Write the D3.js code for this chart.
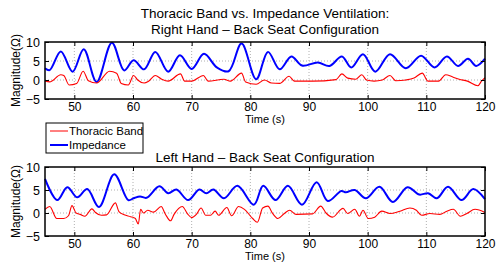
<!DOCTYPE html>
<html lang="en">
  <head>
    <meta charset="UTF-8" />
    <title>Thoracic Band vs. Impedance Ventilation</title>
    <style>
      body {
        margin: 0;
        background: #fff;
      }
      svg {
        font-family: 'Liberation Sans', Arial, sans-serif;
      }
    </style>
  </head>
  <body>
    <div id="main"></div>
    <script src="https://cdn.jsdelivr.net/npm/d3@7"></script>
    <script>
      const xTicks = [50, 60, 70, 80, 90, 100, 110, 120]
      const yTicks = [-5, 0, 5, 10]
      const seriesNames = ['Thoracic Band', 'Impedance']

      // [time (s), magnitude]
      const rightImpedance = [
        [45, 3.1], [45.8, 2.6], [47.7, 7.5], [49.7, 2.2], [51.6, 8.1], [53.8, -0.5],
        [56.4, 9.8], [58.5, 2.5], [60.1, 5.2], [61.9, 2.8], [63.8, 7.4], [66.0, 2.2],
        [68.0, 6.5], [70.0, 2.9], [72.1, 6.9], [74.3, 3.3], [76.3, 2.3], [78.5, 9.6],
        [81.0, 0.2], [83.0, 7.4], [85.0, 2.8], [87.0, 6.2], [88.8, 3.8], [91.5, 4.6],
        [93.5, 3.7], [95.6, 6.2], [97.2, 3.3], [99.2, 6.8], [101.3, 2.2], [103.8, 6.8],
        [106.5, 3.1], [109.1, 6.4], [111.4, 3.3], [113.5, 6.2], [115.4, 3.7], [117.1, 5.6],
        [118.5, 3.7], [120, 5.6]
      ]
      const rightThoracic = [
        [45, -0.3], [45.8, -0.5], [47.7, 1.4], [48.2, 1.2], [49.1, -1.3], [50.4, -0.9],
        [51.5, 2.3], [52.4, -0.2], [53.8, -0.8], [56.0, 2.3], [57.2, 1.8], [58.0, -0.9],
        [59.2, -1.3], [60.1, 1.2], [60.8, 0], [61.9, -0.8], [62.6, -0.4], [63.8, 1.2],
        [64.9, 0.2], [66.0, -0.3], [68.1, 1.6], [68.8, -0.3], [70.0, -0.3], [72.0, 1.2],
        [72.8, -0.3], [75.5, 0.2], [76.6, -0.3], [78.5, 1.8], [79.2, -0.5], [81.0, -1.1],
        [82.4, 0], [83.6, -0.8], [85.0, -0.9], [86.6, 1.0], [87.5, -0.3], [90.6, -0.3],
        [94.6, 0.1], [95.6, 1.6], [96.6, 0.5], [98.0, 0.2], [99.0, 1.4], [99.8, 0],
        [101.1, -0.3], [102.5, 0], [103.8, 1.2], [104.8, -0.2], [106.5, 0], [107.9, 0.5],
        [109.3, 1.8], [110.3, -0.3], [112.1, -0.3], [113.3, 1.4], [114.5, 0.8], [115.6, 0.2],
        [117.0, -0.3], [118.8, -1.5], [119.4, -0.3], [120, 0.6]
      ]
      const leftImpedance = [
        [45, 7.4], [47.1, 2.8], [48.8, 5.6], [50.5, 3.4], [52.2, 5.2], [54.2, 1.3],
        [56.8, 8.4], [59.2, 2.8], [60.1, 3.2], [61.2, 3.6], [62.3, 3.3], [64.5, 5.8],
        [66.0, 4.3], [67.4, 5.1], [69.4, 2.8], [71.3, 5.1], [72.5, 4.3], [73.7, 5.1],
        [75.5, 3.2], [77.8, 5.9], [80.6, 1.8], [82.2, 5.9], [84.3, 2.8], [86.4, 5.9],
        [88.8, 1.8], [91.3, 6.7], [93.2, 2.6], [95.5, 4.8], [96.3, 4.5], [97.8, 5.0],
        [99.7, 3.2], [102.0, 5.7], [104.3, 2.4], [106.8, 5.6], [108.8, 4.0], [110.3, 4.3],
        [111.8, 3.2], [113.7, 5.7], [116.0, 2.8], [118.0, 5.2], [120, 3.0]
      ]
      const leftThoracic = [
        [45, 0.8], [45.8, 1.4], [47.0, -1.2], [48.2, -1.2], [49.0, -0.6], [49.6, 1.6],
        [50.3, 0], [51.0, -0.3], [51.8, -0.7], [53.0, 0.9], [53.6, 0.1], [54.6, -0.5],
        [55.5, -0.4], [57.0, 2.2], [57.6, 0.3], [58.5, -0.4], [59.6, -0.8], [60.4, -1.2],
        [60.9, -2.4], [61.3, 0.8], [61.8, 0], [62.5, 0.6], [63.5, 0.2], [64.8, 1.4],
        [65.5, -0.2], [66.4, -1.7], [67.0, -0.3], [68.4, 1.4], [69.3, -0.2], [70.0, -1.0],
        [70.8, -0.3], [71.6, 1.1], [72.4, -0.5], [73.2, -0.5], [74.0, 0.4], [74.6, -0.5],
        [76.0, 1.2], [76.8, -0.6], [78.0, 1.4], [79.0, 0.8], [80.4, -1.2], [81.2, -2.0],
        [82.1, 1.1], [83.0, 1.5], [83.8, -0.1], [84.7, -1.2], [85.8, -0.1], [86.7, 0.6],
        [87.8, -0.3], [90.6, -0.2], [92.0, 1.5], [92.9, 0], [94.0, -0.9], [95.8, 1.0],
        [96.6, -0.1], [97.8, 0.8], [98.6, -0.7], [99.2, 0.6], [100.1, -1.2], [101.2, -0.9],
        [102.4, 0.4], [103.8, -0.1], [105.5, 0.4], [107.2, 1.1], [108.3, 0.6], [109.2, -0.5],
        [110.6, -0.1], [112.3, -0.3], [113.5, 0.4], [114.6, 0.8], [115.8, -0.7], [116.9, -0.1],
        [118.3, 0.8], [120, 0.1]
      ]

      const [width, height] = [496, 264]
      const left = 45
      const right = 485

      const svg = d3
        .select('#main')
        .append('svg')
        .attr('width', width)
        .attr('height', height)
        .attr('viewBox', `0 0 ${width} ${height}`)

      const xScale = d3.scaleLinear().domain([45, 120]).range([left, right])

      const drawPanel = (top, bottom, thoracic, impedance) => {
        const yScale = d3.scaleLinear().domain([-5, 10]).range([bottom, top])
        const g = svg.append('g')

        // dotted grid
        g.append('g')
          .selectAll('line')
          .data(xTicks.filter(d => d < 120))
          .join('line')
          .attr('x1', d => xScale(d))
          .attr('x2', d => xScale(d))
          .attr('y1', top)
          .attr('y2', bottom)
          .attr('stroke', '#b0b0b0')
          .attr('stroke-dasharray', '1,2')
        g.append('g')
          .selectAll('line')
          .data(yTicks.filter(d => d > -5 && d < 10))
          .join('line')
          .attr('x1', left)
          .attr('x2', right)
          .attr('y1', d => yScale(d))
          .attr('y2', d => yScale(d))
          .attr('stroke', '#b0b0b0')
          .attr('stroke-dasharray', '1,2')

        const smooth = d3
          .line()
          .x(d => xScale(d[0]))
          .y(d => yScale(d[1]))
          .curve(d3.curveCatmullRom.alpha(0.5))
        const jagged = d3
          .line()
          .x(d => xScale(d[0]))
          .y(d => yScale(d[1]))
          .curve(d3.curveMonotoneX)

        g.append('path')
          .datum(impedance)
          .attr('d', smooth)
          .attr('fill', 'none')
          .attr('stroke', '#0000ff')
          .attr('stroke-width', 2)
        g.append('path')
          .datum(thoracic)
          .attr('d', jagged)
          .attr('fill', 'none')
          .attr('stroke', '#ff0000')
          .attr('stroke-width', 1.1)

        // axes, ticks pointing inward like matlab
        const xAxis = g
          .append('g')
          .attr('transform', `translate(0, ${bottom})`)
          .call(d3.axisBottom(xScale).tickValues(xTicks).tickSizeInner(-4).tickSizeOuter(0).tickPadding(3))
        const yAxis = g
          .append('g')
          .attr('transform', `translate(${left}, 0)`)
          .call(
            d3
              .axisLeft(yScale)
              .tickValues(yTicks)
              .tickSizeInner(-4)
              .tickSizeOuter(0)
              .tickPadding(5)
              .tickFormat(d => (d < 0 ? '\u2212' + Math.abs(d) : d))
          )
        g.append('g')
          .attr('transform', `translate(0, ${top})`)
          .call(d3.axisTop(xScale).tickValues(xTicks).tickSizeInner(-4).tickSizeOuter(0).tickFormat(''))
        g.append('g')
          .attr('transform', `translate(${right}, 0)`)
          .call(d3.axisRight(yScale).tickValues(yTicks).tickSizeInner(-4).tickSizeOuter(0).tickFormat(''))

        g.selectAll('.domain').remove()
        g.selectAll('.tick line').attr('stroke', '#000')
        xAxis.selectAll('text').style('font-size', '12px').attr('fill', '#000')
        yAxis.selectAll('text').style('font-size', '12.5px').attr('fill', '#000')

        g.append('rect')
          .attr('x', left)
          .attr('y', top)
          .attr('width', right - left)
          .attr('height', bottom - top)
          .attr('fill', 'none')
          .attr('stroke', '#000')
          .attr('stroke-width', 1.5)

        g.append('text')
          .attr('x', (left + right) / 2)
          .attr('y', bottom + 24)
          .attr('text-anchor', 'middle')
          .style('font-size', '11px')
          .text('Time (s)')

        g.append('text')
          .attr('transform', `translate(20, ${(top + bottom) / 2}) rotate(-90)`)
          .attr('text-anchor', 'middle')
          .style('font-size', '12px')
          .text('Magnitude(\u03a9)')
      }

      const title = svg
        .append('text')
        .attr('text-anchor', 'middle')
        .style('font-size', '13.5px')
      title.append('tspan').attr('x', 265).attr('y', 18).text('Thoracic Band vs. Impedance Ventilation:')
      title.append('tspan').attr('x', 265).attr('y', 34).text('Right Hand \u2013 Back Seat Configuration')

      drawPanel(42, 99, rightThoracic, rightImpedance)

      svg
        .append('text')
        .attr('x', 265)
        .attr('y', 162)
        .attr('text-anchor', 'middle')
        .style('font-size', '13.5px')
        .text('Left Hand \u2013 Back Seat Configuration')

      drawPanel(167, 236, leftThoracic, leftImpedance)

      // legend
      const legend = svg.append('g').attr('transform', 'translate(46, 123)')
      legend
        .append('rect')
        .attr('width', 97)
        .attr('height', 30)
        .attr('fill', '#fff')
        .attr('stroke', '#000')
      const colors = ['#ff0000', '#0000ff']
      const items = legend
        .selectAll('g')
        .data(seriesNames)
        .join('g')
        .attr('transform', (_, i) => `translate(0, ${8 + i * 14})`)
      items
        .append('line')
        .attr('x1', 4)
        .attr('x2', 22)
        .attr('stroke', (_, i) => colors[i])
        .attr('stroke-width', (_, i) => (i ? 2 : 1))
      items
        .append('text')
        .attr('x', 23)
        .attr('y', 4)
        .style('font-size', '11.5px')
        .text(d => d)
    </script>
  </body>
</html>
